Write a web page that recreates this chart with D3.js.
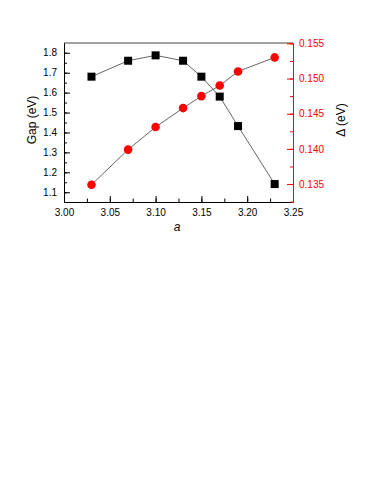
<!DOCTYPE html>
<html>
<head>
<meta charset="utf-8">
<script src="https://d3js.org/d3.v7.min.js"></script>
<style>
  body { margin: 0; background: #fff; }
  svg text { font-family: "Liberation Sans", Arial, sans-serif; }
</style>
</head>
<body>
<script>
// lattice parameter a
var aValues = [3.03, 3.07, 3.10, 3.13, 3.15, 3.17, 3.19, 3.23];
// band gap (eV), left axis
var gapValues = [1.68, 1.76, 1.787, 1.76, 1.68, 1.58, 1.432, 1.141];
// Delta (eV), right axis
var deltaValues = [0.1349, 0.1399, 0.1431, 0.1458, 0.1475, 0.1490, 0.1510, 0.1530];

var xTicks = [3.00, 3.05, 3.10, 3.15, 3.20, 3.25];
var gapTicks = [1.1, 1.2, 1.3, 1.4, 1.5, 1.6, 1.7, 1.8];
var deltaTicks = [0.135, 0.140, 0.145, 0.150, 0.155];

var W = 382, H = 494;
var pLeft = 64, pRight = 293, pTop = 43, pBottom = 202;

var svg = d3.select("body").append("svg").attr("width", W).attr("height", H);

var x = d3.scaleLinear().domain([3.0, 3.25]).range([pLeft, pRight]);
var yL = d3.scaleLinear().domain([1.051, 1.849]).range([pBottom, pTop]);
var yR = d3.scaleLinear().domain([0.13245, 0.15505]).range([pBottom, pTop]);

// top frame line
svg.append("line").attr("x1", pLeft).attr("x2", pRight).attr("y1", pTop).attr("y2", pTop)
  .attr("stroke", "#444").attr("stroke-width", 1);

// bottom axis
var xAxis = svg.append("g").attr("transform", "translate(0," + pBottom + ")");
xAxis.append("g").call(d3.axisBottom(x).tickValues(d3.range(3.0, 3.2501, 0.025)).tickSize(-3.5).tickSizeOuter(0).tickFormat(""));
xAxis.append("g").call(d3.axisBottom(x).tickValues(xTicks).tickSize(-6).tickSizeOuter(0).tickPadding(7).tickFormat(d3.format(".2f")));
xAxis.selectAll("text").attr("font-size", 10).attr("fill", "#000");
xAxis.selectAll("line, .domain").attr("stroke", "#000");

// left axis
var lAxis = svg.append("g").attr("transform", "translate(" + pLeft + ",0)");
lAxis.append("g").call(d3.axisLeft(yL).tickValues(d3.range(1.1, 1.84, 0.05)).tickSize(-3).tickSizeOuter(0).tickFormat(""));
lAxis.append("g").call(d3.axisLeft(yL).tickValues(gapTicks).tickSize(-6).tickSizeOuter(0).tickPadding(7).tickFormat(d3.format(".1f")));
lAxis.selectAll("text").attr("font-size", 10).attr("fill", "#000");
lAxis.selectAll("line, .domain").attr("stroke", "#000");

// right axis (red)
var rAxis = svg.append("g").attr("transform", "translate(" + pRight + ",0)");
rAxis.append("g").call(d3.axisRight(yR).tickValues(d3.range(0.1325, 0.1551, 0.0025)).tickSize(-3).tickSizeOuter(0).tickFormat(""));
rAxis.append("g").call(d3.axisRight(yR).tickValues(deltaTicks).tickSize(-6).tickSizeOuter(0).tickPadding(6).tickFormat(d3.format(".3f")));
rAxis.selectAll("text").attr("font-size", 10).attr("fill", "#f00");
rAxis.selectAll("line, .domain").attr("stroke", "#f00");

// axis titles
svg.append("text").attr("transform", "translate(36,120) rotate(-90)")
  .attr("text-anchor", "middle").attr("font-size", 12).text("Gap (eV)");
svg.append("text").attr("transform", "translate(345,120) rotate(-90)")
  .attr("text-anchor", "middle").attr("font-size", 12).text("\u0394 (eV)");
svg.append("text").attr("x", 177).attr("y", 231)
  .attr("text-anchor", "middle").attr("font-size", 12).attr("font-style", "italic").text("a");

// gap series
var gapLine = d3.line().x(function (d, i) { return x(aValues[i]); }).y(function (d) { return yL(d); });
svg.append("path").datum(gapValues).attr("d", gapLine)
  .attr("fill", "none").attr("stroke", "#555").attr("stroke-width", 0.9);
svg.selectAll(".sq").data(gapValues).enter().append("rect")
  .attr("x", function (d, i) { return x(aValues[i]) - 4; })
  .attr("y", function (d) { return yL(d) - 4; })
  .attr("width", 8).attr("height", 8).attr("fill", "#000");

// delta series
var deltaLine = d3.line().x(function (d, i) { return x(aValues[i]); }).y(function (d) { return yR(d); });
svg.append("path").datum(deltaValues).attr("d", deltaLine)
  .attr("fill", "none").attr("stroke", "#555").attr("stroke-width", 0.9);
svg.selectAll(".dot").data(deltaValues).enter().append("circle")
  .attr("cx", function (d, i) { return x(aValues[i]); })
  .attr("cy", function (d) { return yR(d); })
  .attr("r", 4.3).attr("fill", "#f00");
</script>
</body>
</html>
